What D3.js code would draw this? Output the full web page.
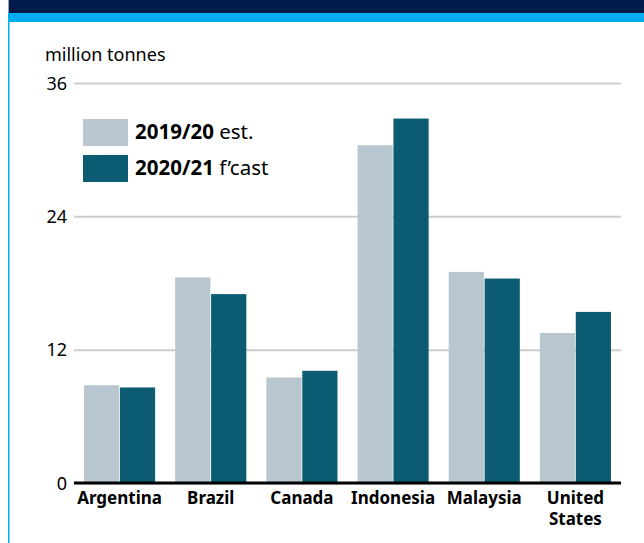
<!DOCTYPE html>
<html>
<head>
<meta charset="utf-8">
<script src="https://cdn.jsdelivr.net/npm/d3@7/dist/d3.min.js"></script>
<style>
  html, body { margin: 0; padding: 0; background: #fff; }
  svg { display: block; }
  text { font-family: "Noto Sans", sans-serif; fill: #000; }
</style>
</head>
<body>
<svg id="chart" width="644" height="543"></svg>
<script>
// Production by country, million tonnes
const categories = ["Argentina", "Brazil", "Canada", "Indonesia", "Malaysia", "United States"];
const est1920 = [8.8, 18.5, 9.5, 30.4, 19.0, 13.5];
const fcast2021 = [8.6, 17.0, 10.1, 32.8, 18.4, 15.4];
const yTicks = [0, 12, 24, 36];
const seriesNames = [
  { bold: "2019/20", rest: " est." },
  { bold: "2020/21", rest: " f\u2019cast" }
];
const colors = ["#b8c6d0", "#0b5c73"];
const FONT = "'Noto Sans', sans-serif";

const svg = d3.select("#chart");

// Header band and left border
svg.append("rect").attr("x", 9).attr("y", 0).attr("width", 635).attr("height", 13).attr("fill", "#001a4b");
svg.append("rect").attr("x", 8).attr("y", 0).attr("width", 1).attr("height", 13).attr("fill", "#9aa3b5");
svg.append("rect").attr("x", 8).attr("y", 13).attr("width", 636).attr("height", 9).attr("fill", "#00aeef");
svg.append("rect").attr("x", 8).attr("y", 22).attr("width", 1.5).attr("height", 521).attr("fill", "#00aeef");

const plot = { left: 74, right: 621, top: 83, bottom: 483 };

const y = d3.scaleLinear().domain([0, 36]).range([plot.bottom, plot.top]);
const x0 = d3.scaleBand().domain(categories).range([plot.left, plot.right])
  .paddingInner(0.22).paddingOuter(0.11);
const x1 = d3.scaleBand().domain([0, 1]).range([0, x0.bandwidth()]).paddingInner(0.02);

// Gridlines + tick labels
const yAxis = d3.axisLeft(y).tickValues(yTicks).tickSize(-(plot.right - plot.left)).tickPadding(7);
const gy = svg.append("g").attr("transform", `translate(${plot.left},0)`).call(yAxis)
  .attr("font-family", FONT).attr("font-size", 18);
gy.select(".domain").remove();
gy.selectAll(".tick line").attr("stroke", "#cccccc").attr("stroke-width", 2);
gy.selectAll(".tick text").attr("fill", "#000").attr("dy", "0.34em");

svg.append("text").attr("x", 45).attr("y", 61).attr("font-size", 18).text("million tonnes");

// Bars
const groups = svg.append("g").selectAll("g").data(categories).join("g")
  .attr("transform", d => `translate(${x0(d)},0)`);
groups.selectAll("rect")
  .data((d, i) => [est1920[i], fcast2021[i]])
  .join("rect")
  .attr("x", (d, j) => x1(j))
  .attr("width", x1.bandwidth())
  .attr("y", d => y(d))
  .attr("height", d => y(0) - y(d))
  .attr("fill", (d, j) => colors[j]);

// Baseline
svg.append("line").attr("x1", plot.left).attr("x2", plot.right)
  .attr("y1", y(0)).attr("y2", y(0)).attr("stroke", "#000").attr("stroke-width", 3);

// Category labels
const xAxis = d3.axisBottom(x0).tickSize(0).tickPadding(0);
const gx = svg.append("g").attr("transform", `translate(0,${plot.bottom})`).call(xAxis)
  .attr("font-family", FONT).attr("font-size", 17).attr("font-weight", "bold");
gx.select(".domain").remove();
gx.selectAll(".tick text").each(function(d) {
  const t = d3.select(this);
  t.text(null).attr("y", 0).attr("dy", null).attr("fill", "#000");
  const words = d === "United States" ? ["United", "States"] : [d];
  words.forEach((w, k) => t.append("tspan").attr("x", 0).attr("y", 21 + k * 21).text(w));
});

// Legend
const legend = svg.append("g");
seriesNames.forEach((s, i) => {
  const ly = 119 + i * 36;
  legend.append("rect").attr("x", 83).attr("y", ly).attr("width", 45).attr("height", 27).attr("fill", colors[i]);
  const t = legend.append("text").attr("x", 135).attr("y", ly + 20).attr("font-size", 20.5);
  t.append("tspan").attr("font-weight", "bold").text(s.bold);
  t.append("tspan").text(s.rest);
});
</script>
</body>
</html>
